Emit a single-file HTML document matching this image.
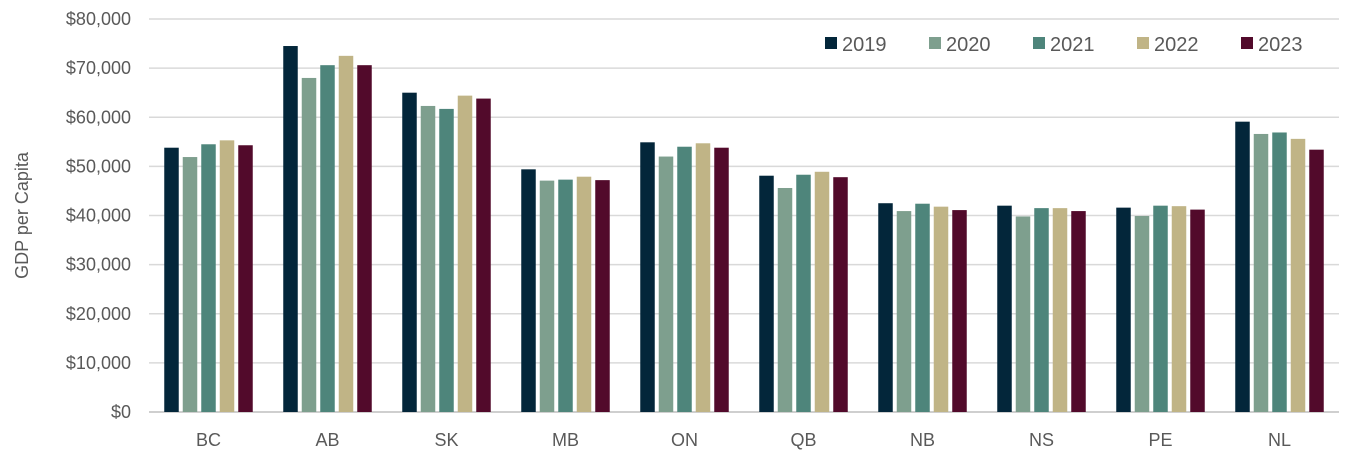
<!DOCTYPE html>
<html><head><meta charset="utf-8"><style>
body{margin:0;background:#fff}
svg{display:block;font-family:"Liberation Sans",sans-serif}
</style></head><body>
<svg id="c" width="1354" height="468"></svg>
<script>
const categories=["BC","AB","SK","MB","ON","QB","NB","NS","PE","NL"];
const years=["2019","2020","2021","2022","2023"];
const v2019=[53800,74500,65000,49400,54900,48100,42500,42000,41600,59100];
const v2020=[51900,68000,62300,47100,52000,45600,40900,39800,39900,56600];
const v2021=[54500,70600,61700,47300,54000,48300,42400,41500,42000,56900];
const v2022=[55300,72500,64400,47900,54700,48900,41800,41500,41900,55600];
const v2023=[54300,70600,63800,47200,53800,47800,41100,40900,41200,53400];
const yTicks=[0,10000,20000,30000,40000,50000,60000,70000,80000];
const colors=["#03263a","#7e9f8e","#4e857b","#c0b486","#520a2b"];
const series=[v2019,v2020,v2021,v2022,v2023];
const NS="http://www.w3.org/2000/svg";
const svg=document.getElementById('c');
const L=149,R=1339,T=19,B=412,yMax=80000;
const y=v=>B-(v/yMax)*(B-T);
const bandW=(R-L)/categories.length;
const x=i=>L+bandW*i;
function mk(t,a){const e=document.createElementNS(NS,t);for(const k in a)e.setAttribute(k,a[k]);svg.appendChild(e);return e;}
yTicks.forEach(t=>{
  const g=mk('line',{x1:L,x2:R,y1:y(t),y2:y(t),stroke:t===0?'#bfbfbf':'#d9d9d9','stroke-width':1.5});
  
  
  const lb=mk('text',{x:131,y:y(t)+6,'text-anchor':'end','font-size':18,fill:'#595959'});
  lb.textContent='$'+t.toLocaleString('en-US');
  
  
});
const barW=14.5,step=18.5,groupW=step*4+barW;
categories.forEach((c,i)=>{
  const gx=x(i)+(bandW-groupW)/2;
  series.forEach((s,j)=>{
    const r=mk('rect',{x:gx+j*step,y:y(s[i]),width:barW,height:B-y(s[i]),fill:colors[j]});
    
    
  });
  const t=mk('text',{x:x(i)+bandW/2,y:446,'text-anchor':'middle','font-size':18,fill:'#595959'});
  t.textContent=c;
  
  
});
const at=mk('text',{x:0,y:0,'text-anchor':'middle','font-size':18,fill:'#595959',transform:'translate(28,'+((T+B)/2)+') rotate(-90)'});
at.textContent='GDP per Capita';


const lx=[825,929,1033,1137,1241];
years.forEach((yr,j)=>{
  const s=mk('rect',{x:lx[j],y:37,width:12,height:12,fill:colors[j]});
  
  
  const t=mk('text',{x:lx[j]+17,y:51,'font-size':20,fill:'#595959'});
  t.textContent=yr;
  
  
});
</script>
</body></html>
